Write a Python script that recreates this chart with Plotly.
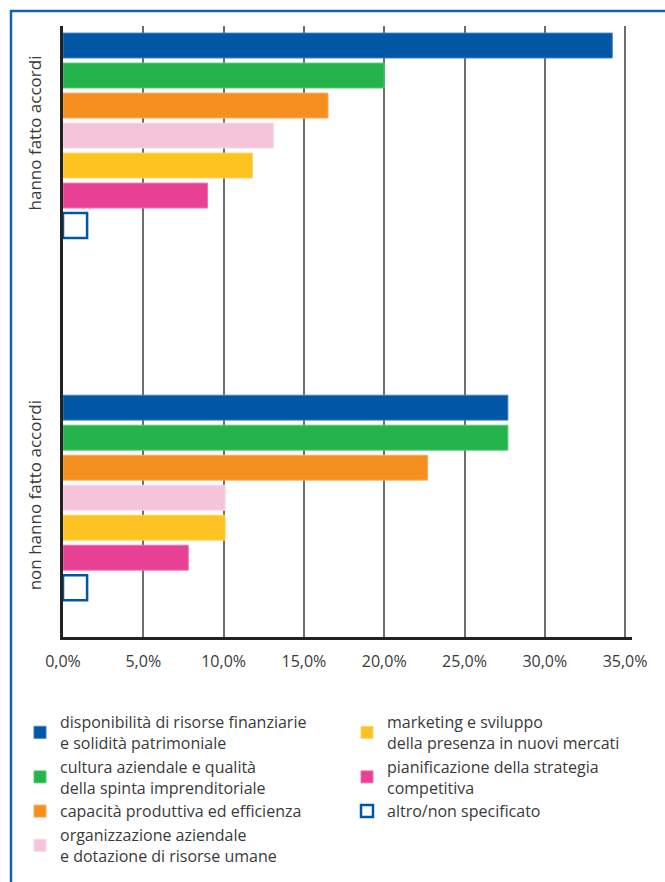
import plotly.graph_objects as go

# Survey groups (y categories) and factor series (percent of firms)
groups = ["hanno fatto accordi", "non hanno fatto accordi"]

factors = [
    "disponibilità di risorse finanziarie<br>e solidità patrimoniale",
    "cultura aziendale e qualità<br>della spinta imprenditoriale",
    "capacità produttiva ed efficienza",
    "organizzazione aziendale<br>e dotazione di risorse umane",
    "marketing e sviluppo<br>della presenza in nuovi mercati",
    "pianificazione della strategia<br>competitiva",
    "altro/non specificato",
]

val_finanziarie = [34.2, 27.7]
val_cultura = [20.0, 27.7]
val_capacita = [16.5, 22.7]
val_organizzazione = [13.1, 10.1]
val_marketing = [11.8, 10.1]
val_pianificazione = [9.0, 7.8]
val_altro = [1.5, 1.5]

series = [val_finanziarie, val_cultura, val_capacita, val_organizzazione,
          val_marketing, val_pianificazione, val_altro]

fills = ["#0057A5", "#25B34B", "#F58F20", "#F6C4DA", "#FEC221", "#E84095", "#FFFFFF"]
edges = ["#3F7EC0", "#5CC878", "#F8AE5E", "#F9D8E6", "#FED564", "#EE74B0", "#0057A5"]
edge_w = [1, 1, 1, 1, 1, 1, 2.5]
legend_of = ["legend", "legend", "legend", "legend", "legend2", "legend2", "legend2"]

W, H = 665, 882
ML, MR, MT, MB = 63, 33, 26, 245

fig = go.Figure()
for name, vals, fc, ec, lw, lg in zip(factors, series, fills, edges, edge_w, legend_of):
    fig.add_trace(go.Bar(
        y=groups, x=vals, orientation="h", name=name,
        marker=dict(color=fc, line=dict(color=ec, width=lw)),
        legend=lg, hoverinfo="x+name",
    ))

text_col = "#3A3A3A"
font_family = "'Open Sans', Lato, sans-serif"

fig.update_layout(
    width=W, height=H,
    margin=dict(l=ML, r=MR, t=MT, b=MB, autoexpand=False),
    paper_bgcolor="white", plot_bgcolor="white",
    barmode="group", bargap=0.42, bargroupgap=0.17,
    font=dict(family=font_family, color=text_col, size=16),
    legend=dict(
        x=(20 - ML) / (W - ML - MR), y=1 - (705 - MT) / (H - MT - MB),
        xanchor="left", yanchor="top", orientation="v",
        font=dict(size=16, color=text_col), tracegroupgap=0,
        bgcolor="rgba(0,0,0,0)",
    ),
    legend2=dict(
        x=(347 - ML) / (W - ML - MR), y=1 - (705 - MT) / (H - MT - MB),
        xanchor="left", yanchor="top", orientation="v",
        font=dict(size=16, color=text_col), tracegroupgap=0,
        bgcolor="rgba(0,0,0,0)",
    ),
    showlegend=True,
)

fig.update_xaxes(
    range=[0, 35.43], tickvals=[0, 5, 10, 15, 20, 25, 30, 35],
    ticktext=["0,0%", "5,0%", "10,0%", "15,0%", "20,0%", "25,0%", "30,0%", "35,0%"],
    showgrid=True, gridcolor="#6E6E6E", gridwidth=1.5,
    showline=True, linecolor="#222222", linewidth=3,
    zeroline=False, ticks="", ticklabelstandoff=8,
    tickfont=dict(size=16, color=text_col), fixedrange=True,
)
fig.update_yaxes(
    type="category", range=[1.3847, -0.3025],
    showline=True, linecolor="#222222", linewidth=3,
    showgrid=False, ticks="", tickangle=-90, ticklabelstandoff=12,
    tickfont=dict(size=17, color=text_col), fixedrange=True,
)

# Blue page frame running off the right and bottom edges
pw, ph = W - ML - MR, H - MT - MB
fig.add_shape(
    type="rect", xref="paper", yref="paper",
    x0=(11 - ML) / pw, x1=(W + 20 - ML) / pw,
    y0=1 - (H + 20 - MT) / ph, y1=1 - (11 - MT) / ph,
    line=dict(color="#1560B0", width=2.5), fillcolor="rgba(0,0,0,0)",
    layer="below",
)

fig.write_html("out.html")
